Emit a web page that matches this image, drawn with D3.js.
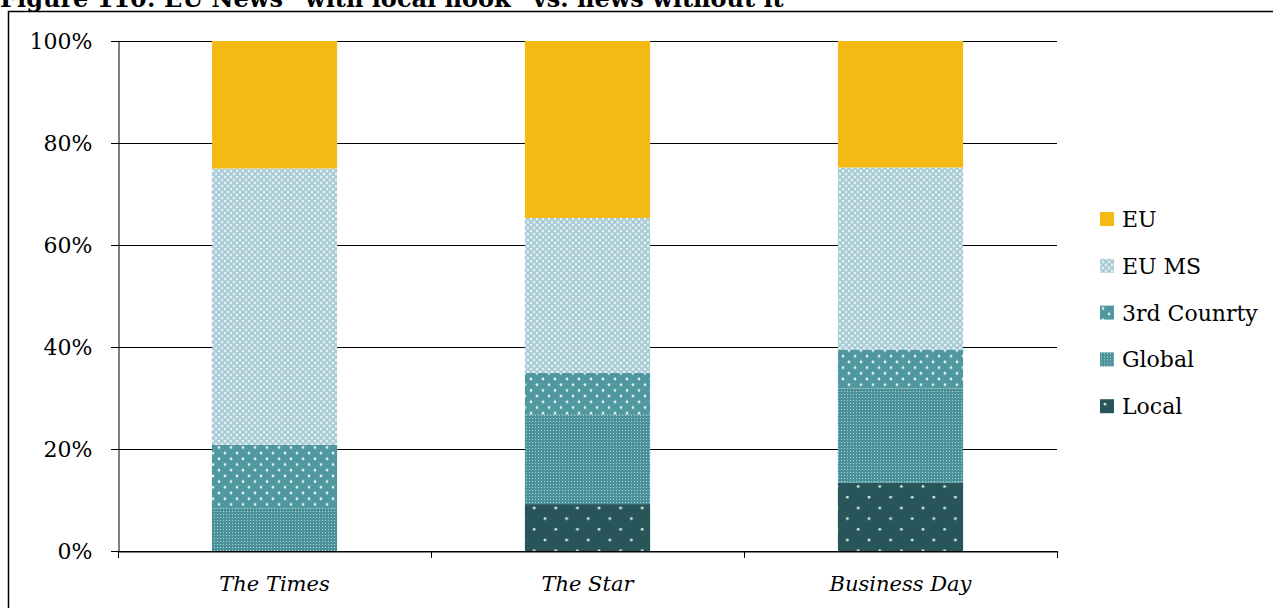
<!DOCTYPE html>
<html><head><meta charset="utf-8">
<script src="https://cdn.jsdelivr.net/npm/d3@7"></script>
<style>html,body{margin:0;padding:0;background:#fff;overflow:hidden}</style>
</head><body>
<svg id="chart" width="1273" height="608"></svg>
<script>
const categories = ["The Times", "The Star", "Business Day"];
const seriesNames = ["Local", "Global", "3rd Counrty", "EU MS", "EU"];
const localVals  = [0, 9.2, 13.4];
const globalVals = [8.4, 17.5, 18.5];
const thirdVals  = [12.4, 8.2, 7.6];
const euMsVals   = [54.2, 30.4, 35.7];
const euVals     = [25.0, 34.7, 24.8];
const yTicks = [0, 20, 40, 60, 80, 100];
const legendOrder = ["EU", "EU MS", "3rd Counrty", "Global", "Local"];

const seriesValues = [localVals, globalVals, thirdVals, euMsVals, euVals];
const rows = categories.map((c, i) => {
  const r = {cat: c};
  seriesNames.forEach((s, j) => r[s] = seriesValues[j][i]);
  return r;
});

const svg = d3.select("#chart");
const defs = svg.append("defs");
const FONT = "'DejaVu Serif', serif";

// patterns
function pat(id, w, h, bg, dots, r, op) {
  const p = defs.append("pattern").attr("id", id).attr("patternUnits", "userSpaceOnUse")
    .attr("width", w).attr("height", h);
  p.append("rect").attr("width", w).attr("height", h).attr("fill", bg);
  dots.forEach(d => p.append("circle").attr("cx", d[0]).attr("cy", d[1]).attr("r", r)
    .attr("fill", "#fff").attr("opacity", op));
}
pat("pEUMS", 6, 6, "#a2c9d3", [[0,0],[6,0],[0,6],[6,6],[3,3]], 1.5, 0.7);
pat("p3rd", 12, 11.4, "#4f989f", [[3,2.85],[9,8.55]], 1.4, 0.85);
pat("pGlobal", 3, 3, "#4a9299", [[1.5,1.5]], 0.55, 0.7);
pat("pLocal", 21.6, 21.4, "#27555a", [[5,5],[15.8,15.7]], 1.4, 0.85);

const color = {"EU": "#f5b914", "EU MS": "url(#pEUMS)", "3rd Counrty": "url(#p3rd)",
  "Global": "url(#pGlobal)", "Local": "url(#pLocal)"};

// title & border
svg.append("text").attr("x", 0).attr("y", 7).attr("font-family", FONT)
  .attr("font-weight", "bold").attr("font-size", 24).attr("fill", "#000")
  .text("Figure 110: EU News \u201cwith local hook\u201d vs. news without it");
svg.append("rect").attr("x", 8.5).attr("y", 11.5).attr("width", 1300).attr("height", 700)
  .attr("fill", "none").attr("stroke", "#000").attr("stroke-width", 1.5);

const L = 118, R = 1057, T = 41, B = 551;
const x = d3.scaleBand().domain(categories).range([L, R]).paddingInner(0.6).paddingOuter(0.3);
const y = d3.scaleLinear().domain([0, 100]).range([B, T]);

// gridlines
svg.append("g").selectAll("line").data(yTicks).join("line")
  .attr("x1", L - 7).attr("x2", R).attr("y1", d => Math.round(y(d)) + 0.5).attr("y2", d => Math.round(y(d)) + 0.5)
  .attr("stroke", "#000").attr("stroke-width", 1);

// stacked bars
const stack = d3.stack().keys(seriesNames)(rows);
svg.append("g").selectAll("g").data(stack).join("g")
  .attr("fill", d => color[d.key])
  .selectAll("rect").data(d => d).join("rect")
  .attr("x", d => x(d.data.cat)).attr("width", x.bandwidth())
  .attr("y", d => y(d[1])).attr("height", d => Math.max(0, y(d[0]) - y(d[1])));

// y axis
const yAxis = svg.append("g").attr("transform", `translate(${L + 0.5},0)`)
  .call(d3.axisLeft(y).tickValues(yTicks).tickFormat(d => d + "%").tickSize(7).tickSizeOuter(0));
yAxis.select(".domain").attr("stroke", "#000");
yAxis.selectAll(".tick line").remove();
yAxis.selectAll("text").attr("font-family", FONT).attr("font-size", 22).attr("fill", "#000")
  .attr("x", -26).attr("dy", "0.36em");

// x axis
const xAxis = svg.append("g").attr("transform", `translate(0,${B + 0.5})`)
  .call(d3.axisBottom(x).tickSize(0).tickSizeOuter(0));
xAxis.select(".domain").attr("stroke", "#000");
xAxis.selectAll("text").attr("font-family", FONT).attr("font-style", "italic")
  .attr("font-size", 21).attr("fill", "#000").attr("y", 25).attr("dy", "0.71em");
svg.append("g").selectAll("line").data([0, 1, 2, 3]).join("line")
  .attr("x1", i => Math.round(L + i * (R - L) / 3) + 0.5).attr("x2", i => Math.round(L + i * (R - L) / 3) + 0.5)
  .attr("y1", B).attr("y2", B + 7).attr("stroke", "#000");

// legend
const leg = svg.append("g").selectAll("g").data(legendOrder).join("g")
  .attr("transform", (d, i) => `translate(1100,${212 + i * 46.8})`);
leg.append("rect").attr("width", 14).attr("height", 14).attr("fill", d => color[d]);
leg.append("text").attr("x", 22).attr("y", 7).attr("dy", "0.36em")
  .attr("font-family", FONT).attr("font-size", 22).attr("fill", "#000").text(d => d);
</script>
</body></html>
